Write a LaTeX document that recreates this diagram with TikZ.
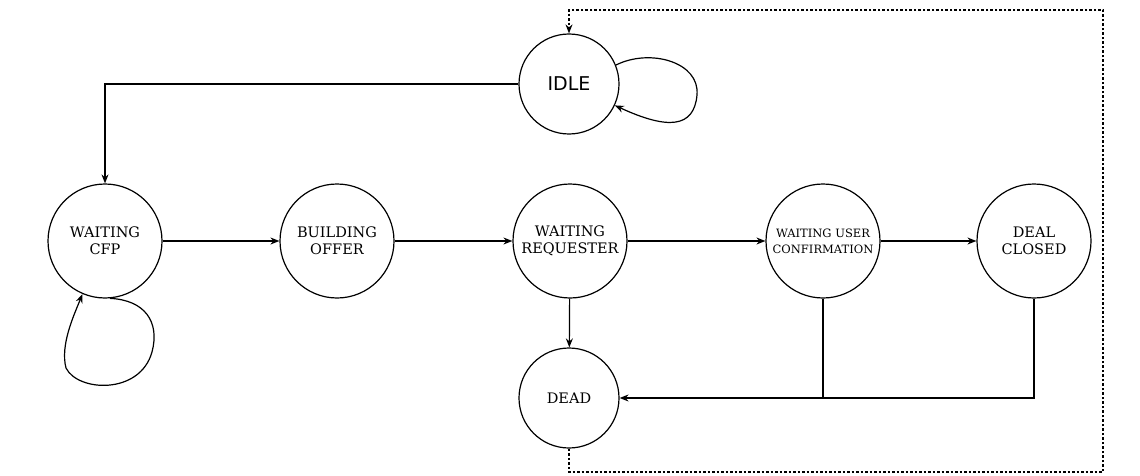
\documentclass[tikz,border=0pt]{standalone}
\usepackage{fontspec}
\setmainfont{DejaVu Serif}
\newfontfamily\sansf{DejaVu Sans}
\usetikzlibrary{arrows.meta}
\begin{document}
\begin{tikzpicture}[x=1pt,y=-1pt,
  line width=1.2pt,
  state/.style={circle,draw,inner sep=0pt,align=center,minimum size=114pt,
     font=\fontsize{14.5}{17}\selectfont},
  small/.style={state,minimum size=100pt},
  arr/.style={-{Stealth[length=9pt,width=7pt]}},
  dsh/.style={dash pattern=on 2.5pt off 2pt}]
\useasboundingbox (0,0) rectangle (1140,476);
\node[small,font=\sansf\fontsize{19}{22}\selectfont] (idle) at (569,84) {IDLE};
\node[state] (wcfp) at (105,241) {WAITING\\CFP};
\node[state] (bo) at (337,241) {BUILDING\\OFFER};
\node[state] (wr) at (570,241) {WAITING\\REQUESTER};
\node[state,font=\fontsize{11.5}{16}\selectfont] (wuc) at (823,241) {WAITING USER\\CONFIRMATION};
\node[state] (dc) at (1034,241) {DEAL\\CLOSED};
\node[small] (dead) at (569,398) {DEAD};
\coordinate (c1) at (569,472);
\coordinate (c2) at (1103,472);
\coordinate (c3) at (1103,10);
\coordinate (c4) at (569,10);
% connectors
\draw[arr] (idle.west) -| (wcfp.north);
\draw[arr] (wcfp) -- (bo);
\draw[arr] (bo) -- (wr);
\draw[arr] (wr) -- (wuc);
\draw[arr] (wuc) -- (dc);
\draw[arr] (wr) -- (dead);
\draw[arr] (dc.south) |- (dead.east);
\draw (wuc.south) -- (wuc.south |- dead.east);
\draw[arr,dsh] (dead.south) -- (c1) -- (c2) -- (c3) -- (c4) -- (idle.north);
% self loops
\draw[arr] (idle.22) .. controls (650,48) and (700,62) .. (697,95)
  .. controls (694,128) and (668,130) .. (idle.-25);
\draw[arr] (wcfp.-85) .. controls (145,300) and (160,322) .. (152,352)
  .. controls (140,395) and (78,392) .. (66,368)
  .. controls (60,345) and (74,315) .. (wcfp.-113);
\end{tikzpicture}
\end{document}
